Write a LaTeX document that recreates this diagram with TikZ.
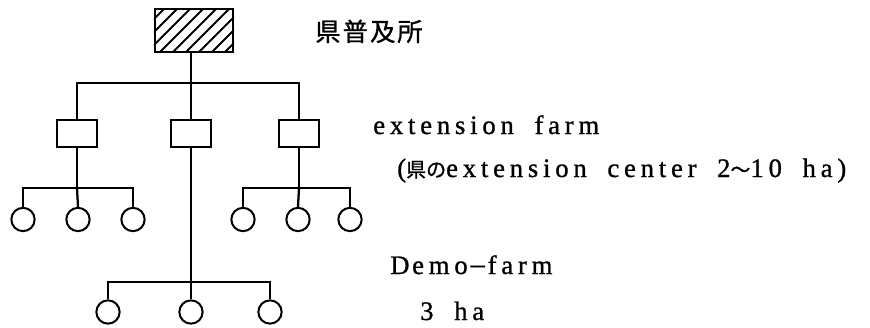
\documentclass[tikz,border=0pt]{standalone}
\usepackage{fontspec}
\setmainfont{Liberation Serif}[LetterSpace=18,WordSpace=1.8,FakeBold=1]
\newfontfamily\cjk{Noto Sans CJK JP}[LetterSpace=8,FakeBold=1]
\newfontfamily\cjktight{Noto Sans CJK JP}[FakeBold=1]
\newcommand{\jsmall}[1]{{\fontsize{15}{18}\cjktight #1}}
\begin{document}
\begin{tikzpicture}[x=0.75pt,y=-0.75pt,
  wire/.style={line width=1.7pt},
  office/.style={draw,line width=1.7pt,minimum width=58.5pt,minimum height=32pt,inner sep=0pt},
  farmbox/.style={draw,line width=1.7pt,minimum width=30pt,minimum height=20pt,inner sep=0pt},
  demo/.style={draw,circle,line width=1.5pt,minimum size=17.5pt,inner sep=0pt},
  label/.style={anchor=base west,inner sep=0pt,font=\fontsize{20}{24}\selectfont}]
\useasboundingbox (0,0) rectangle (870,328);

% prefectural extension office (hatched)
\node[office] (top) at (194,30.5) {};
\begin{scope}
  \clip (top.south west) rectangle (top.north east);
  \foreach \d in {-60,-47,...,100}
    \draw[line width=1.4pt] (155+\d,52) -- (198+\d,9);
\end{scope}
\node[office] at (top) {};

% extension farms
\node[farmbox] (f1) at (77,133.5) {};
\node[farmbox] (f2) at (191,133.5) {};
\node[farmbox] (f3) at (299,133.5) {};

% demo farms
\foreach \i/\x in {1/23,2/78,3/133} \node[demo] (a\i) at (\x,219.5) {};
\foreach \i/\x in {1/243,2/298,3/350} \node[demo] (b\i) at (\x,219.5) {};
\foreach \i/\x in {1/108,2/191,3/270} \node[demo] (c\i) at (\x,312) {};

% junction points
\coordinate (t0) at (191,83);
\coordinate (ja) at (77,188);
\coordinate (jb) at (299,188);
\coordinate (jc) at (191,282);

% connectors
\draw[wire] (top.south -| t0) -- (t0);
\draw[wire] (f1.north) |- (t0) -| (f3.north);
\draw[wire] (t0) -- (f2.north);
\draw[wire] (f1.south) -- (ja);
\draw[wire] (a1.north) |- (ja) -| (a3.north);
\draw[wire] (ja) -- (a2.north);
\draw[wire] (f3.south) -- (jb);
\draw[wire] (b1.north) |- (jb) -| (b3.north);
\draw[wire] (jb) -- (b2.north);
\draw[wire] (f2.south) -- (jc);
\draw[wire] (c1.north) |- (jc) -| (c3.north);
\draw[wire] (jc) -- (c2.north);

% labels
\node[label,font=\fontsize{19}{24}\cjk] (t1) at (315,41) {県普及所};
\node[label] (t2) at (373,134) {extension farm};
\node[label] (t3) at (397,177) {(\jsmall{県の}extension center 2\jsmall{～}10 ha)};
\node[label] (t4) at (390,274) {D\kern2pt emo\jsmall{－}farm};
\node[label] (t5) at (420,320) {3 ha};
\end{tikzpicture}
\end{document}
